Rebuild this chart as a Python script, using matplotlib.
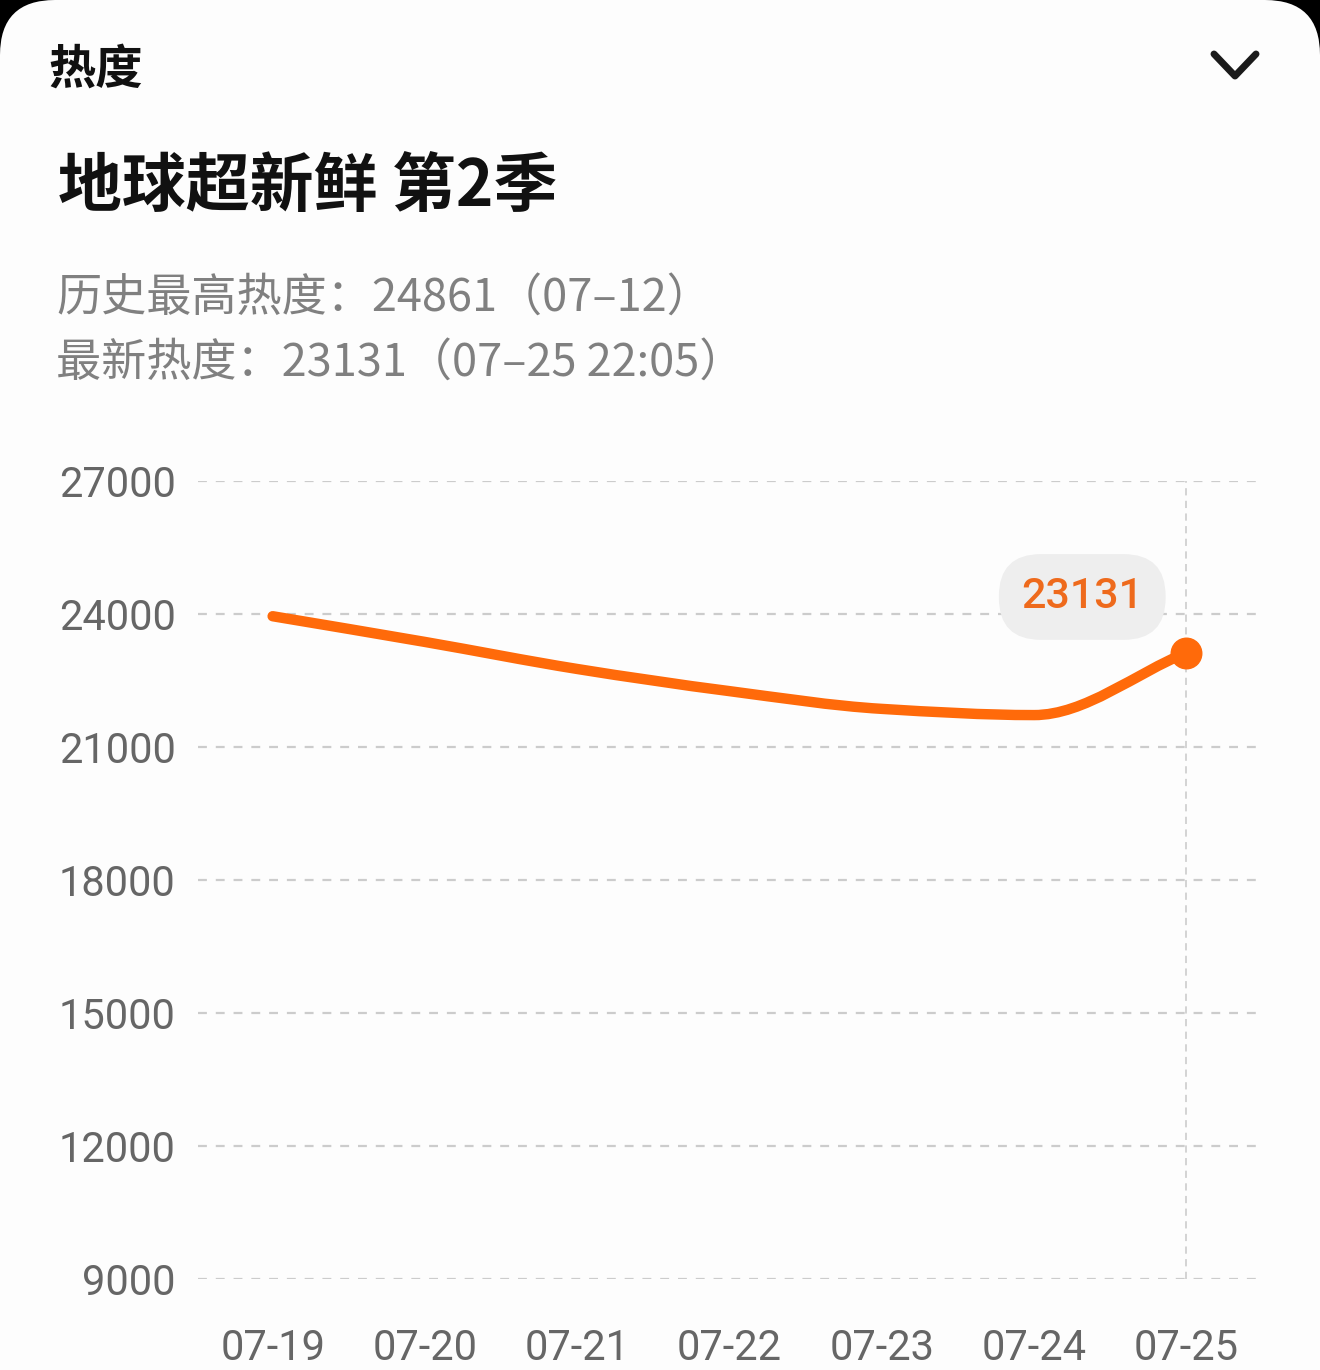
import matplotlib.pyplot as plt
import numpy as np
from matplotlib.path import Path
from matplotlib.patches import PathPatch, FancyBboxPatch

plt.rcParams['font.family'] = ['Noto Sans CJK SC', 'DejaVu Sans']

days = ["07-19", "07-20", "07-21", "07-22", "07-23", "07-24", "07-25"]
heat = [23950, 23370, 22760, 22260, 21860, 21720, 23131]
yticks = [9000, 12000, 15000, 18000, 21000, 24000, 27000]

W, H = 1320, 1370
ORANGE = "#ff6a0a"


def smooth_path(xs, ys):
    # monotone cubic through the points, drawn as bezier segments
    xs = np.asarray(xs, float)
    ys = np.asarray(ys, float)
    h = np.diff(xs)
    d = np.diff(ys) / h
    m = np.zeros_like(ys)
    m[0], m[-1] = d[0], d[-1]
    for i in range(1, len(ys) - 1):
        if d[i - 1] * d[i] <= 0:
            m[i] = 0
        else:
            m[i] = 2 / (1 / d[i - 1] + 1 / d[i])
    verts = [(xs[0], ys[0])]
    codes = [Path.MOVETO]
    for i in range(len(xs) - 1):
        verts += [(xs[i] + h[i] / 3, ys[i] + m[i] * h[i] / 3),
                  (xs[i + 1] - h[i] / 3, ys[i + 1] - m[i + 1] * h[i] / 3),
                  (xs[i + 1], ys[i + 1])]
        codes += [Path.CURVE4] * 3
    return Path(verts, codes)


fig = plt.figure(figsize=(W / 100, H / 100), dpi=100, facecolor="black")
card = FancyBboxPatch((0, -200), W, H + 200, boxstyle="round,pad=0,rounding_size=55",
                      transform=None, facecolor="#fdfdfd", edgecolor="none", zorder=-5)
fig.patches.append(card)

ax = fig.add_axes([198 / W, 91 / H, 1060 / W, 798 / H])
ax.set_facecolor("none")
x = np.arange(len(days))
ax.set_xlim(-0.49, len(days) - 1 + 0.47)
ax.set_ylim(9000, 27000)
ax.set_yticks(yticks)
ax.set_yticklabels([str(v) for v in yticks], family="Roboto", fontsize=30, color="#666666")
for lbl in ax.get_yticklabels():
    lbl.set_va("center_baseline")
ax.set_xticks(x)
ax.set_xticklabels(days, family="Roboto", fontsize=30, color="#666666")
ax.tick_params(length=0)
ax.tick_params(axis="y", pad=16)
ax.tick_params(axis="x", pad=35)
for s in ax.spines.values():
    s.set_visible(False)
ax.grid(axis="y", color="#cccccc", linestyle=(0, (4, 4)), linewidth=1.6)

# axis pointer on the latest value
ax.axvline(x[-1], color="#d0d0d0", linestyle=(0, (4, 3)), linewidth=1.3, zorder=1)

ax.add_patch(PathPatch(smooth_path(x, heat), facecolor="none", edgecolor=ORANGE,
                       linewidth=7.5, capstyle="round", zorder=3))
ax.plot(x[-1], heat[-1], "o", color=ORANGE, markersize=22, zorder=4)

ax.annotate(str(heat[-1]), (x[-1], heat[-1]), xytext=(-75, 40), textcoords="offset points",
            ha="center", va="center", family="Roboto", fontweight="medium",
            fontsize=31, color="#ee6a1c", zorder=5,
            bbox=dict(boxstyle="round,pad=0.52,rounding_size=0.98", facecolor="#eeeeee",
                      edgecolor="none"))


def ftext(px, py, s, **kw):
    fig.text(px / W, 1 - py / H, s, va="center", ha="left", **kw)


ftext(48, 70, "热度", fontsize=34, fontweight="bold", color="#111111")
ftext(58, 187, "地球超新鲜 第2季", fontsize=46, fontweight="bold", color="#111111")
ftext(56, 298, "历史最高热度：24861（07–12）", fontsize=32.5, color="#808080")
ftext(56, 363, "最新热度：23131（07–25 22:05）", fontsize=32.5, color="#808080")

# collapse chevron
fig.add_artist(plt.Line2D([1214 / W, 1235 / W, 1256 / W],
                          [1 - 54 / H, 1 - 76 / H, 1 - 54 / H],
                          color="#1a1a1a", linewidth=5, solid_capstyle="round",
                          solid_joinstyle="round"))

fig.savefig("out.png", dpi=100, facecolor=fig.get_facecolor())
